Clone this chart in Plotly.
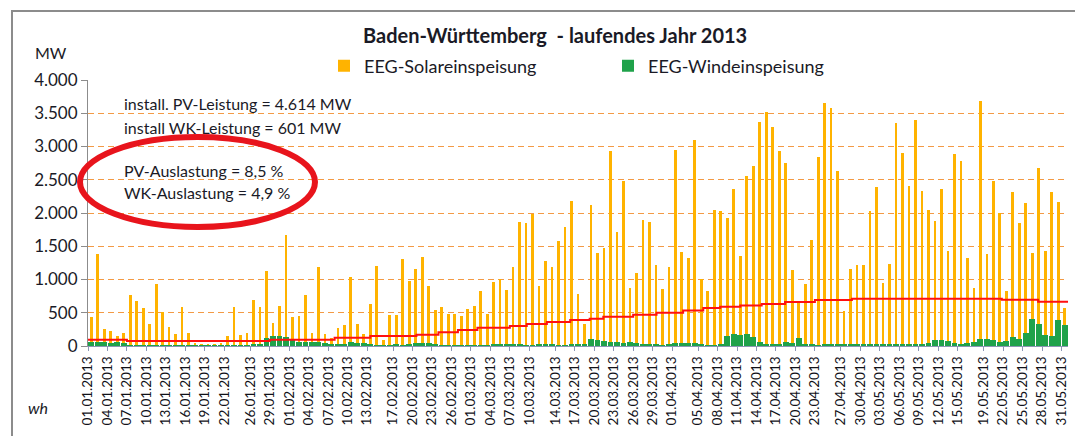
import plotly.graph_objects as go
import pandas as pd

# daily peak feed-in, 01.01.2013 - 31.05.2013 (MW)
solar_peak = [
    430, 1390, 250, 230, 150, 200, 760, 670, 570, 330,
    935, 505, 280, 175, 590, 200, 40, 30, 20, 30,
    50, 150, 590, 165, 200, 690, 580, 1135, 350, 600,
    1665, 430, 455, 760, 200, 1195, 175, 125, 270, 310,
    1045, 335, 185, 625, 1210, 85, 460, 460, 1310, 985,
    1160, 1335, 895, 535, 585, 485, 485, 445, 560, 595,
    825, 485, 960, 1010, 835, 1185, 1860, 1845, 1985, 895,
    1285, 1185, 1585, 1785, 2185, 775, 325, 2125, 1400, 1475,
    2935, 1715, 2475, 875, 1100, 1890, 1865, 1225, 850, 1185,
    2950, 1410, 1325, 3100, 1015, 825, 2050, 2025, 1925, 2365,
    1350, 2560, 2700, 3375, 3525, 3300, 2925, 2750, 1150, 675,
    935, 1600, 2835, 3650, 3575, 2625, 525, 1165, 1225, 1215,
    2025, 2385, 950, 1235, 3350, 2900, 2400, 3400, 2325, 2050,
    1885, 2365, 1425, 2885, 2785, 1325, 875, 3685, 1385, 2485,
    2000, 825, 2315, 1850, 2150, 1400, 2675, 1425, 2315, 2165, 565,
]

wind_peak = [
    60, 60, 55, 50, 55, 50,
    15, 10, 10, 15, 10, 10, 10, 5, 5, 10, 10, 10, 10, 15, 10, 10, 10, 10, 15, 20, 25,
    120, 145, 150, 140, 110,
    60, 60, 55, 60, 50,
    30, 20, 20, 60,
    50, 40, 20, 15, 10, 15, 20, 15, 20,
    45, 45, 40, 20,
    10, 10, 15, 10, 10, 15, 10, 10,
    25, 25, 30, 25, 20,
    10, 15, 35, 35, 20, 15, 10,
    35, 35, 30,
    100, 85, 80,
    55, 60, 50, 55, 40,
    20, 25, 20, 15, 20,
    45, 50, 45, 50,
    20, 15, 15, 20,
    150, 180, 170, 175, 140,
    60, 30, 20, 25,
    60, 45, 125,
    30, 20, 15, 20, 30,
    30, 35, 25, 30, 25, 20,
    25, 30, 35, 20,
    20, 30, 25, 35, 40, 95,
    95, 80,
    40, 35, 50, 60,
    110, 105, 90,
    60, 80, 135,
    110, 200,
    410, 335,
    160, 150,
    395, 310,
]

# red step line (MW): day offset where a step starts, and its level
red_step_day = [0, 6, 28, 38, 43.5, 50.6, 54, 57, 60, 65, 67.6, 70.7, 74.3, 77.3,
                79.4, 84, 87.6, 91.7, 94.8, 97.4, 100.5, 103.8, 107.4, 112, 117.7,
                140.8, 146.4, 151]
red_step_val = [95, 75, 95, 125, 150, 170, 205, 240, 275, 300, 330, 360, 390, 410,
                440, 470, 500, 535, 570, 590, 610, 630, 660, 690, 710,
                695, 665, 665]

tick_labels = [
    "01.01.2013", "04.01.2013", "07.01.2013", "10.01.2013", "13.01.2013", "16.01.2013",
    "19.01.2013", "22.01.2013", "26.01.2013", "29.01.2013", "01.02.2013", "04.02.2013",
    "07.02.2013", "10.02.2013", "13.02.2013", "17.02.2013", "20.02.2013", "23.02.2013",
    "26.02.2013", "01.03.2013", "04.03.2013", "07.03.2013", "10.03.2013", "14.03.2013",
    "17.03.2013", "20.03.2013", "23.03.2013", "26.03.2013", "29.03.2013", "01.04.2013",
    "05.04.2013", "08.04.2013", "11.04.2013", "14.04.2013", "17.04.2013", "20.04.2013",
    "23.04.2013", "27.04.2013", "30.04.2013", "03.05.2013", "06.05.2013", "09.05.2013",
    "12.05.2013", "15.05.2013", "19.05.2013", "22.05.2013", "25.05.2013", "28.05.2013",
    "31.05.2013",
]

y_ticks = [0, 500, 1000, 1500, 2000, 2500, 3000, 3500, 4000]
y_tick_text = ["0", "500", "1.000", "1.500", "2.000", "2.500", "3.000", "3.500", "4.000"]

START = pd.Timestamp("2013-01-01")
DAY_MS = 86400000
days = pd.date_range(START, periods=len(solar_peak), freq="D")
noon = days + pd.Timedelta(hours=12)
red_x = [START + pd.Timedelta(days=d) for d in red_step_day]
tick_vals = pd.to_datetime(tick_labels, format="%d.%m.%Y")

# pixel geometry of the plot area
W, H = 1075, 436
L, R, T, B = 88, 1068, 80, 346


def px_x(x):
    return (x - L) / (R - L)


def px_y(y):
    return 1 - (y - T) / (B - T)


FONT = "Lato"
DARK = "#1a1a26"
GRID = "#f39a45"

fig = go.Figure()

fig.add_trace(go.Bar(
    x=noon, y=solar_peak, width=0.42 * DAY_MS,
    marker=dict(color="#ffb300", line=dict(width=0)),
    name="EEG-Solareinspeisung",
))
fig.add_trace(go.Bar(
    x=noon, y=wind_peak, width=0.9 * DAY_MS,
    marker=dict(color="#1fa24a", line=dict(width=0)),
    name="EEG-Windeinspeisung",
))
fig.add_trace(go.Scatter(
    x=red_x, y=red_step_val, mode="lines", line=dict(color="#ff1010", width=2, shape="hv"),
    showlegend=False, hoverinfo="skip",
))

annotations = [
    dict(text="<b>Baden-Württemberg  - laufendes Jahr 2013</b>", x=px_x(555), y=px_y(35),
         font=dict(size=20, color=DARK)),
    dict(text="MW", x=px_x(51), y=px_y(52), font=dict(size=16, color=DARK)),
    dict(text="<i>wh</i>", x=px_x(38), y=px_y(407), font=dict(size=16, color=DARK)),
    dict(text="install. PV-Leistung = 4.614 MW", x=px_x(122), y=px_y(103), xanchor="left",
         font=dict(size=16, color=DARK)),
    dict(text="install WK-Leistung = 601 MW", x=px_x(122), y=px_y(127), xanchor="left",
         font=dict(size=16, color=DARK)),
    dict(text="PV-Auslastung = 8,5 %", x=px_x(122), y=px_y(170), xanchor="left",
         font=dict(size=16, color=DARK)),
    dict(text="WK-Auslastung = 4,9 %", x=px_x(122), y=px_y(192), xanchor="left",
         font=dict(size=16, color=DARK)),
]
for a in annotations:
    a.update(xref="paper", yref="paper", showarrow=False, font_family=FONT)
    a.setdefault("xanchor", "center")
    a.setdefault("yanchor", "middle")

fig.update_layout(
    width=W, height=H,
    margin=dict(l=L, r=W - R, t=T, b=H - B),
    paper_bgcolor="white", plot_bgcolor="white",
    barmode="overlay", bargap=0,
    font=dict(family=FONT, color=DARK),
    annotations=annotations,
    legend=dict(
        orientation="h", x=px_x(324), y=px_y(66), xanchor="left", yanchor="middle",
        entrywidth=239, entrywidthmode="pixels", itemwidth=30,
        font=dict(size=18, color=DARK), bgcolor="rgba(0,0,0,0)",
    ),
    shapes=[
        # outer chart frame
        dict(type="rect", xref="paper", yref="paper",
             x0=px_x(12), x1=px_x(1090), y0=px_y(450), y1=px_y(11),
             line=dict(color="#8c8c8c", width=2), layer="below"),
        # red ellipse round the load factors
        dict(type="circle", xref="paper", yref="paper",
             x0=px_x(80), x1=px_x(315), y0=px_y(227), y1=px_y(137),
             line=dict(color="#e8141c", width=6)),
    ],
    xaxis=dict(
        type="date",
        range=[START, START + pd.Timedelta(days=151)],
        tickvals=tick_vals, ticktext=tick_labels, tickangle=-90,
        tickfont=dict(size=13.5, color="#111118"),
        ticks="outside", ticklen=4, tickcolor="#8c96b4",
        showline=True, linecolor="#8c96b4", linewidth=1,
        showgrid=False, zeroline=False,
    ),
    yaxis=dict(
        range=[0, 4000], tickvals=y_ticks, ticktext=y_tick_text,
        tickfont=dict(size=17, color=DARK),
        ticks="outside", ticklen=6, tickcolor="#8c8c8c",
        showline=True, linecolor="#8c8c8c", linewidth=1,
        showgrid=True, gridcolor=GRID, griddash="6px,4px", gridwidth=1.3,
        zeroline=False,
    ),
)

# drop the browser's default body margin so the figure sits at the page origin
fig.write_html("out.html", config={"displayModeBar": False},
               post_script="document.body.style.margin='0';")
